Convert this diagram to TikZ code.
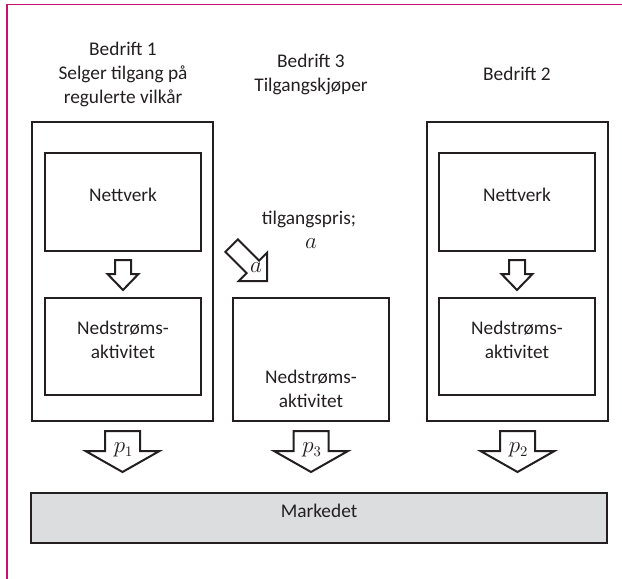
\documentclass[tikz,border=0pt]{standalone}
\usepackage{fontspec}
\setmainfont{Carlito}
\usetikzlibrary{calc,fit}
\definecolor{ink}{RGB}{35,31,32}
\definecolor{framerule}{RGB}{200,16,110}
\definecolor{marketgrey}{RGB}{220,221,222}

% downward block arrow: #1 top-centre, #2 shaft width, #3 head width, #4 shaft length, #5 head length
\newcommand\blockdown[5]{%
  \draw[blk] ($(#1)+(-#2/2,0)$) -- ++(#2,0) -- ++(0,#4) -- ++({(#3-#2)/2},0)
    -- ($(#1)+(0,#4+#5)$) -- ($(#1)+(-#3/2,#4)$) -- ++({(#3-#2)/2},0) -- cycle;}

\begin{document}
\begin{tikzpicture}[x=0.75pt,y=-0.75pt,
  box/.style={draw=ink,line width=1.5pt,inner sep=0pt},
  txt/.style={text=ink,font=\fontsize{14.5}{18}\selectfont,align=center},
  sym/.style={text=ink,font=\fontsize{16}{18}\selectfont,inner sep=0pt},
  blk/.style={draw=ink,fill=white,line width=1.5pt,line join=miter},
]
\useasboundingbox (0,0) rectangle (622,579);

% page rule
\draw[framerule,line width=1.1pt] (7,579) -- (7,4.5) -- (622,4.5);

% headings
\node[txt] (h1) at (123,74) {Bedrift 1\\Selger tilgang på\\regulerte vilkår};
\node[txt] (h3) at (311,74) {Bedrift 3\\Tilgangskjøper};
\node[txt] (h2) at (517,74) {Bedrift 2};

% firm 1
\node[box,fit={(32,122) (213,421)}] (b1) {};
\node[box,txt,fit={(45,153) (201,251)}] (net1) {Nettverk};
\node[box,txt,fit={(45,298) (201,395)}] (ned1) {Nedstrøms-\\aktivitet};

% firm 2
\node[box,fit={(427,122) (608,421)}] (b2) {};
\node[box,txt,fit={(439,153) (595,251)}] (net2) {Nettverk};
\node[box,txt,fit={(439,298) (595,395)}] (ned2) {Nedstrøms-\\aktivitet};

% firm 3
\node[box,fit={(233,298) (389,421)}] (b3) {};
\node[txt] (ned3) at ($(b3.south)+(0,-33)$) {Nedstrøms-\\aktivitet};

% market
\node[box,fill=marketgrey,txt,fit={(31,493) (607,543)}] (mkt) {Markedet};

% access price
\node[txt] (price) at (309,219) {tilgangspris;};
\node[sym] (pricea) at (311,244) {$a$};

% network -> downstream arrows
\coordinate (s1) at ($(net1.south)+(0,8)$);
\coordinate (s2) at ($(net2.south)+(0,8)$);
\blockdown{s1}{16}{31}{14}{16}
\blockdown{s2}{16}{31}{14}{16}

% price arrows towards the market
\coordinate (q1) at ($(b1.south)+(0,9)$);
\coordinate (q3) at ($(b3.south)+(0,9)$);
\coordinate (q2) at ($(b2.south)+(0,9)$);
\blockdown{q1}{35}{74}{20}{21}
\blockdown{q3}{35}{74}{20}{21}
\blockdown{q2}{35}{74}{20}{21}
\node[sym] (p1) at ($(q1)+(1,19)$) {$p_1$};
\node[sym] (p3) at ($(q3)+(1,19)$) {$p_3$};
\node[sym] (p2) at ($(q2)+(1,19)$) {$p_2$};

% access arrow into firm 3
\coordinate (tip) at ($(b3.north west)+(35,-16)$);
\begin{scope}[shift={(tip)},rotate=-45]
  \draw[blk] (-50,-8.8) -- (-20,-8.8) -- (-20,-20) -- (0,0) -- (-20,20) -- (-20,8.8) -- (-50,8.8) -- cycle;
\end{scope}
\node[sym] (alab) at ($(tip)+(-11,-13)$) {$a$};
\end{tikzpicture}
\end{document}
